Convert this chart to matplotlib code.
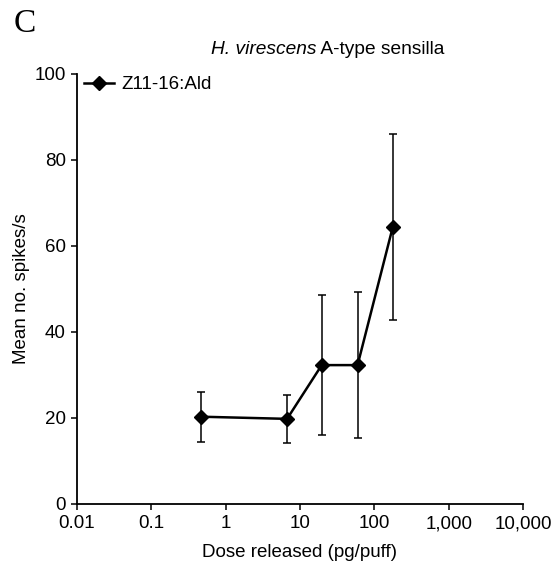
import matplotlib
matplotlib.use("Agg")
import matplotlib.pyplot as plt
from matplotlib.lines import Line2D

# Dose-response of H. virescens A-type sensilla to Z11-16:Ald
dose = [0.47, 6.7, 19.6, 59.5, 177.0]          # pg/puff
mean_spikes = [20.3, 19.8, 32.3, 32.3, 64.4]   # spikes/s
err = [5.8, 5.6, 16.2, 17.0, 21.6]

x_ticks = [0.01, 0.1, 1, 10, 100, 1000, 10000]
x_tick_labels = ["0.01", "0.1", "1", "10", "100", "1,000", "10,000"]
y_ticks = [0, 20, 40, 60, 80, 100]

plt.rcParams["font.family"] = ["Liberation Sans", "DejaVu Sans"]

fig = plt.figure(figsize=(5.56, 5.67), dpi=100)
ax = fig.add_axes([77 / 556, 63 / 567, 446 / 556, 430 / 567])

ax.errorbar(dose, mean_spikes, yerr=err, color="black", lw=1.8,
            marker="D", markersize=6.8, elinewidth=1.1, capsize=3,
            capthick=1.1)

ax.set_xscale("log")
ax.set_xlim(0.01, 10000)
ax.set_ylim(0, 100)
ax.set_xticks(x_ticks)
ax.set_xticklabels(x_tick_labels)
ax.set_yticks(y_ticks)
ax.xaxis.set_minor_locator(matplotlib.ticker.NullLocator())

for side in ("top", "right"):
    ax.spines[side].set_visible(False)
for side in ("left", "bottom"):
    ax.spines[side].set_linewidth(1.3)

ax.tick_params(axis="both", direction="out", length=4, width=1.1,
               labelsize=13.5, pad=4)

ax.set_xlabel("Dose released (pg/puff)", fontsize=13.5)
ax.xaxis.set_label_coords(0.5, -0.093)
ax.set_ylabel("Mean no. spikes/s", fontsize=13.5)
ax.yaxis.set_label_coords(-0.105, 0.5)

handle = Line2D([], [], color="black", lw=1.8, marker="D", markersize=6.8)
ax.legend([handle], ["Z11-16:Ald"], loc="center left",
          bbox_to_anchor=(0.016, 0.975), frameon=False, fontsize=13.5,
          handlelength=1.6, handletextpad=0.4, borderpad=0, borderaxespad=0)

# Panel title: italic species name followed by upright text
title_italic = fig.text(211 / 556, 1 - 50 / 567, "H. virescens",
                        style="italic", ha="left", va="center",
                        fontsize=13.8)
ax.annotate(" A-type sensilla", xy=(1, 0), xycoords=title_italic,
            ha="left", va="bottom", fontsize=13.8, annotation_clip=False)

fig.text(14 / 556, 1 - 24 / 567, "C", family="Liberation Serif",
         fontsize=24, ha="left", va="center")

fig.savefig("out.png", dpi=100, facecolor="white")
